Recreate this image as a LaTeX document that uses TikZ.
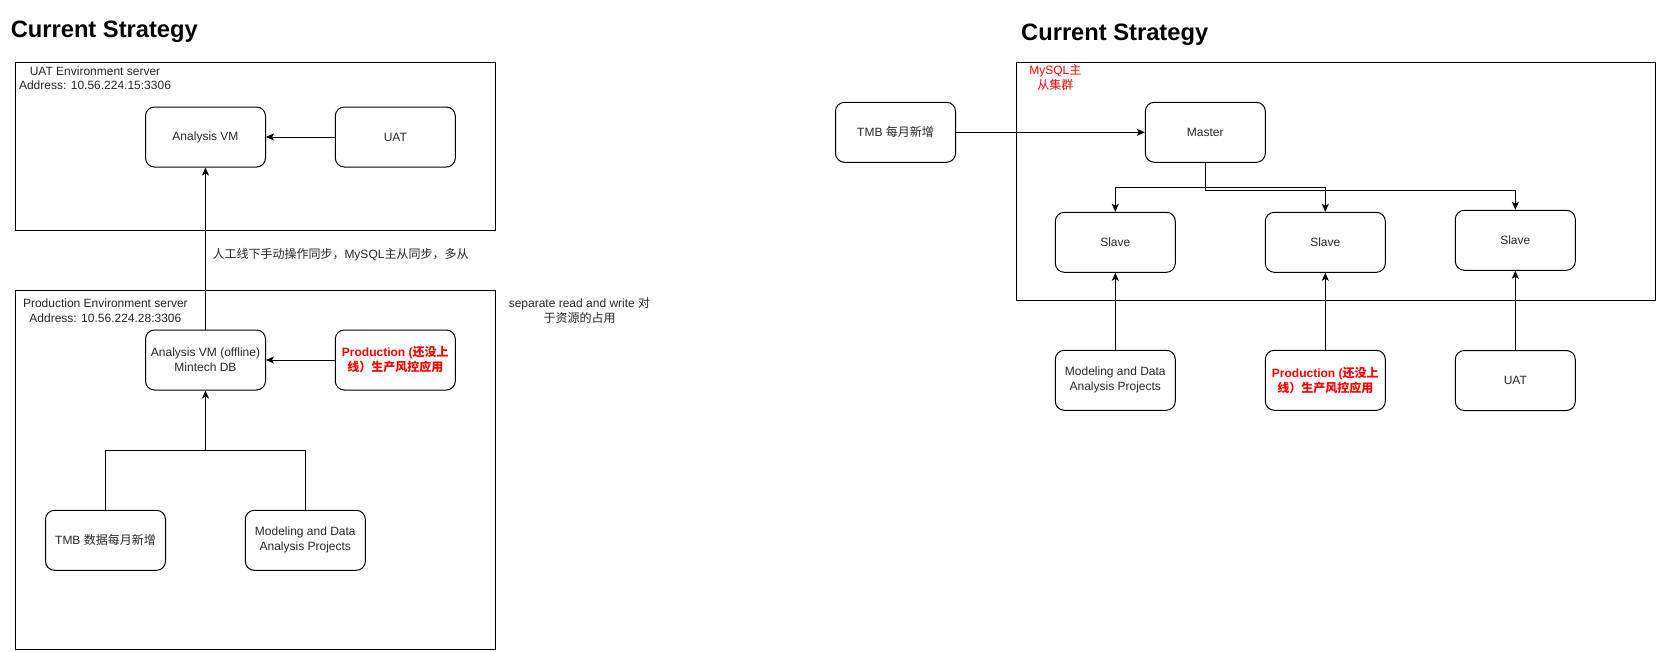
\documentclass[tikz,border=0pt]{standalone}
\usepackage{fontspec}
\setmainfont{Liberation Sans}
\newfontfamily\zhfont{Noto Sans CJK SC}
\newcommand{\zh}[1]{{\zhfont #1}}
\usetikzlibrary{arrows.meta}
\begin{document}
\begin{tikzpicture}[x=1pt,y=-1pt,line width=1pt]
\tikzstyle{box}=[draw,rounded corners=9pt,minimum width=120pt,minimum height=60pt,align=center,text=black!85,font=\fontsize{12}{15}\selectfont,inner sep=2pt]
\tikzstyle{redtext}=[text=red,font=\fontsize{12}{15}\selectfont\bfseries]
\tikzstyle{frame}=[draw,anchor=north west,inner sep=0pt]
\tikzstyle{note}=[align=center,inner sep=0pt,text=black!85,font=\fontsize{12}{14.7}\selectfont]
\tikzstyle{title}=[anchor=base west,inner sep=0pt,font=\fontsize{23.7}{28}\selectfont\bfseries]
\tikzstyle{arr}=[-{Stealth[length=8pt,width=7pt,inset=2pt]}]
\useasboundingbox (0,0) rectangle (1656,651);
% left: two servers
\node[title] at (10.3,37.3) (titleL) {Current Strategy};
\node[frame,minimum width=480pt,minimum height=167.4pt] at (15.3,62.3) (uatenv) {};
\node[note] at (95,78.3) (uatenvlbl) {UAT Environment server\\Address: 10.56.224.15:3306};
\node[box] at (205.5,137) (uatvm) {Analysis VM};
\node[box] at (395.3,137) (uat) {UAT};
\node[frame,minimum width=480pt,minimum height=359pt] at (15.3,290.4) (prodenv) {};
\node[note] at (105.4,310.5) (prodenvlbl) {Production Environment server\\Address: 10.56.224.28:3306};
\node[box] at (205.5,360) (prodvm) {Analysis VM (offline)\\Mintech DB};
\node[box,redtext] at (395.3,360) (prodapp) {Production (\zh{还没上}\\\zh{线）生产风控应用}};
\node[box] at (105.5,540.3) (tmb) {TMB \zh{数据每月新增}};
\node[box] at (305.3,540.3) (model) {Modeling and Data\\Analysis Projects};
\coordinate (join) at (205.5,450);
\node[note] at (579.5,310.5) (rwnote) {separate read and write \zh{对}\\\zh{于资源的占用}};
\draw[arr] (uat) -- (uatvm);
\draw[arr] (prodvm.north) -- (uatvm.south) node[note,pos=0.46,anchor=west,xshift=6.5pt] (synclbl) {\zh{人工线下手动操作同步，}MySQL\zh{主从同步，多从}};
\draw[arr] (prodapp) -- (prodvm);
\draw[arr] (tmb.north) |- (join) -- (prodvm.south);
\draw (model.north) |- (join);
% right: MySQL cluster
\node[title] at (1020.7,40) (titleR) {Current Strategy};
\node[frame,minimum width=639.6pt,minimum height=237.7pt] at (1015.7,62.3) (cluster) {};
\node[note,text=red] at (1055.3,77.5) (clusterlbl) {MySQL\zh{主}\\\zh{从集群}};
\node[box] at (895.5,132.3) (tmbnew) {TMB \zh{每月新增}};
\node[box] at (1205.3,132.3) (master) {Master};
\node[box] at (1115.3,242.3) (slaveA) {Slave};
\node[box] at (1325.3,242.3) (slaveB) {Slave};
\node[box] at (1515.3,240.3) (slaveC) {Slave};
\node[box] at (1115.3,380.3) (modelR) {Modeling and Data\\Analysis Projects};
\node[box,redtext] at (1325.3,380.3) (prodR) {Production (\zh{还没上}\\\zh{线）生产风控应用}};
\node[box] at (1515.3,380.5) (uatR) {UAT};
\draw[arr] (tmbnew) -- (master);
\draw[arr] (master.south) -- ++(0,25) -| (slaveA.north);
\draw[arr] (master.south) -- ++(0,25) -| (slaveB.north);
\draw[arr] (master.south) -- ++(0,28) -| (slaveC.north);
\draw[arr] (modelR) -- (slaveA);
\draw[arr] (prodR) -- (slaveB);
\draw[arr] (uatR) -- (slaveC);
\end{tikzpicture}
\end{document}
